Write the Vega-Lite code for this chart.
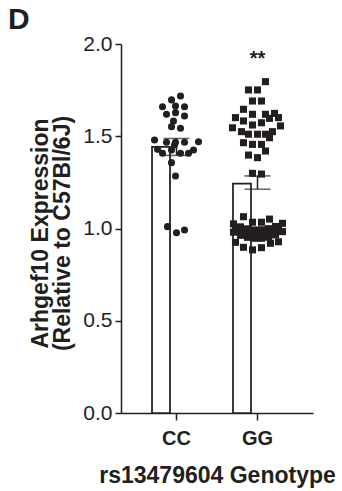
{
  "$schema": "https://vega.github.io/schema/vega-lite/v6.json",
  "width": 192,
  "height": 369,
  "autosize": {"type": "none"},
  "padding": {"left": 121, "top": 44, "right": 29, "bottom": 78},
  "background": "white",
  "title": {
    "text": "D",
    "anchor": "start",
    "frame": "group",
    "dx": -113,
    "dy": 37,
    "offset": 11,
    "baseline": "alphabetic",
    "font": "Liberation Sans",
    "fontSize": 30,
    "fontWeight": "bold",
    "color": "#231f20"
  },
  "config": {
    "view": {"stroke": null},
    "font": "Liberation Sans",
    "axis": {
      "domainColor": "#231f20",
      "domainWidth": 1.5,
      "tickColor": "#231f20",
      "tickWidth": 1.5,
      "labelColor": "#231f20",
      "titleColor": "#231f20",
      "labelFont": "Liberation Sans",
      "titleFont": "Liberation Sans",
      "grid": false
    }
  },
  "datasets": {
    "points": [
      {"genotype": "CC", "expression": 1.718, "jitter": 4},
      {"genotype": "CC", "expression": 1.697, "jitter": -5},
      {"genotype": "CC", "expression": 1.660, "jitter": -14},
      {"genotype": "CC", "expression": 1.664, "jitter": -1},
      {"genotype": "CC", "expression": 1.660, "jitter": 8},
      {"genotype": "CC", "expression": 1.619, "jitter": -10},
      {"genotype": "CC", "expression": 1.628, "jitter": -1},
      {"genotype": "CC", "expression": 1.610, "jitter": 8},
      {"genotype": "CC", "expression": 1.583, "jitter": -3},
      {"genotype": "CC", "expression": 1.552, "jitter": -5},
      {"genotype": "CC", "expression": 1.543, "jitter": 4},
      {"genotype": "CC", "expression": 1.480, "jitter": -22},
      {"genotype": "CC", "expression": 1.467, "jitter": -10},
      {"genotype": "CC", "expression": 1.467, "jitter": -1},
      {"genotype": "CC", "expression": 1.467, "jitter": 8},
      {"genotype": "CC", "expression": 1.470, "jitter": 22},
      {"genotype": "CC", "expression": 1.429, "jitter": -19},
      {"genotype": "CC", "expression": 1.408, "jitter": -14},
      {"genotype": "CC", "expression": 1.425, "jitter": -5},
      {"genotype": "CC", "expression": 1.453, "jitter": -2},
      {"genotype": "CC", "expression": 1.408, "jitter": 4},
      {"genotype": "CC", "expression": 1.408, "jitter": 12},
      {"genotype": "CC", "expression": 1.425, "jitter": 17},
      {"genotype": "CC", "expression": 1.357, "jitter": -5},
      {"genotype": "CC", "expression": 1.285, "jitter": -1},
      {"genotype": "CC", "expression": 1.010, "jitter": -9},
      {"genotype": "CC", "expression": 0.977, "jitter": 0},
      {"genotype": "CC", "expression": 0.992, "jitter": 8},
      {"genotype": "GG", "expression": 1.796, "jitter": 8},
      {"genotype": "GG", "expression": 1.751, "jitter": -9},
      {"genotype": "GG", "expression": 1.751, "jitter": 0},
      {"genotype": "GG", "expression": 1.691, "jitter": -5},
      {"genotype": "GG", "expression": 1.691, "jitter": 4},
      {"genotype": "GG", "expression": 1.646, "jitter": -14},
      {"genotype": "GG", "expression": 1.619, "jitter": -5},
      {"genotype": "GG", "expression": 1.619, "jitter": 8},
      {"genotype": "GG", "expression": 1.624, "jitter": 17},
      {"genotype": "GG", "expression": 1.601, "jitter": -22},
      {"genotype": "GG", "expression": 1.601, "jitter": 21},
      {"genotype": "GG", "expression": 1.583, "jitter": -14},
      {"genotype": "GG", "expression": 1.597, "jitter": 12},
      {"genotype": "GG", "expression": 1.561, "jitter": -5},
      {"genotype": "GG", "expression": 1.573, "jitter": 4},
      {"genotype": "GG", "expression": 1.556, "jitter": 23},
      {"genotype": "GG", "expression": 1.546, "jitter": -25},
      {"genotype": "GG", "expression": 1.525, "jitter": -16},
      {"genotype": "GG", "expression": 1.525, "jitter": 15},
      {"genotype": "GG", "expression": 1.511, "jitter": -9},
      {"genotype": "GG", "expression": 1.511, "jitter": 0},
      {"genotype": "GG", "expression": 1.511, "jitter": 8},
      {"genotype": "GG", "expression": 1.492, "jitter": 12},
      {"genotype": "GG", "expression": 1.465, "jitter": -14},
      {"genotype": "GG", "expression": 1.456, "jitter": -5},
      {"genotype": "GG", "expression": 1.456, "jitter": 4},
      {"genotype": "GG", "expression": 1.420, "jitter": 8},
      {"genotype": "GG", "expression": 1.398, "jitter": -9},
      {"genotype": "GG", "expression": 1.384, "jitter": 0},
      {"genotype": "GG", "expression": 1.299, "jitter": -5},
      {"genotype": "GG", "expression": 1.295, "jitter": 4},
      {"genotype": "GG", "expression": 1.064, "jitter": -14},
      {"genotype": "GG", "expression": 1.051, "jitter": 12},
      {"genotype": "GG", "expression": 1.034, "jitter": -5},
      {"genotype": "GG", "expression": 1.034, "jitter": 4},
      {"genotype": "GG", "expression": 1.025, "jitter": -24},
      {"genotype": "GG", "expression": 1.009, "jitter": -17},
      {"genotype": "GG", "expression": 0.998, "jitter": -10},
      {"genotype": "GG", "expression": 0.992, "jitter": -3},
      {"genotype": "GG", "expression": 0.993, "jitter": 4},
      {"genotype": "GG", "expression": 0.999, "jitter": 11},
      {"genotype": "GG", "expression": 1.011, "jitter": 18},
      {"genotype": "GG", "expression": 1.028, "jitter": 25},
      {"genotype": "GG", "expression": 0.995, "jitter": -21},
      {"genotype": "GG", "expression": 0.980, "jitter": -14},
      {"genotype": "GG", "expression": 0.972, "jitter": -7},
      {"genotype": "GG", "expression": 0.969, "jitter": 0},
      {"genotype": "GG", "expression": 0.972, "jitter": 7},
      {"genotype": "GG", "expression": 0.980, "jitter": 14},
      {"genotype": "GG", "expression": 0.995, "jitter": 21},
      {"genotype": "GG", "expression": 0.980, "jitter": -24},
      {"genotype": "GG", "expression": 0.963, "jitter": -17},
      {"genotype": "GG", "expression": 0.952, "jitter": -10},
      {"genotype": "GG", "expression": 0.947, "jitter": -3},
      {"genotype": "GG", "expression": 0.947, "jitter": 4},
      {"genotype": "GG", "expression": 0.953, "jitter": 11},
      {"genotype": "GG", "expression": 0.965, "jitter": 18},
      {"genotype": "GG", "expression": 0.983, "jitter": 25},
      {"genotype": "GG", "expression": 0.925, "jitter": -22},
      {"genotype": "GG", "expression": 0.898, "jitter": -14},
      {"genotype": "GG", "expression": 0.884, "jitter": -5},
      {"genotype": "GG", "expression": 0.896, "jitter": 4},
      {"genotype": "GG", "expression": 0.920, "jitter": 13},
      {"genotype": "GG", "expression": 0.928, "jitter": 21}
    ],
    "summary": [
      {"genotype": "CC", "mean": 1.442, "lo": 1.396, "hi": 1.488},
      {"genotype": "GG", "mean": 1.243, "lo": 1.213, "hi": 1.285}
    ],
    "annot": [
      {"genotype": "GG", "label": "**", "pos": 1.886}
    ]
  },
  "encoding": {
    "x": {
      "field": "genotype",
      "type": "nominal",
      "sort": ["CC", "GG"],
      "scale": {"domain": ["CC", "GG"], "paddingInner": 0.395, "paddingOuter": 0.383},
      "axis": {
        "title": "rs13479604 Genotype",
        "labelAngle": 0,
        "labelFontSize": 20,
        "labelFontWeight": "bold",
        "labelPadding": 8,
        "tickSize": 7,
        "titleFontSize": 23,
        "titleFontWeight": "bold",
        "titlePadding": 16
      }
    }
  },
  "layer": [
    {
      "data": {"name": "summary"},
      "mark": {"type": "bar", "fill": "white", "stroke": "#231f20", "strokeWidth": 1.75},
      "encoding": {
        "y": {
          "field": "mean",
          "type": "quantitative",
          "scale": {"domain": [0, 2], "nice": false},
          "axis": {
            "title": ["Arhgef10 Expression", "(Relative to C57Bl/6J)"],
            "values": [0, 0.5, 1, 1.5, 2],
            "format": ".1f",
            "labelFontSize": 21,
            "labelPadding": 3,
            "tickSize": 6,
            "titleFontSize": 23,
            "titleFontWeight": "bold",
            "titleLineHeight": 22,
            "titlePadding": 8,
            "titleY": 189
          }
        }
      }
    },
    {
      "data": {"name": "points"},
      "mark": {"type": "point", "filled": true, "color": "#231f20", "opacity": 1, "size": 50},
      "encoding": {
        "y": {"field": "expression", "type": "quantitative"},
        "xOffset": {"field": "jitter", "type": "quantitative", "scale": {"domain": [-24.5, 24.5]}},
        "shape": {
          "field": "genotype",
          "type": "nominal",
          "scale": {"domain": ["CC", "GG"], "range": ["circle", "square"]},
          "legend": null
        }
      }
    },
    {
      "data": {"name": "summary"},
      "mark": {"type": "rule", "color": "#231f20", "strokeWidth": 1.5},
      "encoding": {
        "y": {"field": "lo", "type": "quantitative"},
        "y2": {"field": "hi"}
      }
    },
    {
      "data": {"name": "summary"},
      "mark": {"type": "tick", "color": "#231f20", "thickness": 1.5, "size": 26},
      "encoding": {"y": {"field": "lo", "type": "quantitative"}}
    },
    {
      "data": {"name": "summary"},
      "mark": {"type": "tick", "color": "#231f20", "thickness": 1.5, "size": 26},
      "encoding": {"y": {"field": "hi", "type": "quantitative"}}
    },
    {
      "data": {"name": "annot"},
      "mark": {"type": "text", "font": "Liberation Sans", "fontSize": 20, "fontWeight": "bold", "color": "#231f20", "baseline": "alphabetic", "align": "center"},
      "encoding": {
        "y": {"field": "pos", "type": "quantitative"},
        "text": {"field": "label"}
      }
    }
  ]
}
